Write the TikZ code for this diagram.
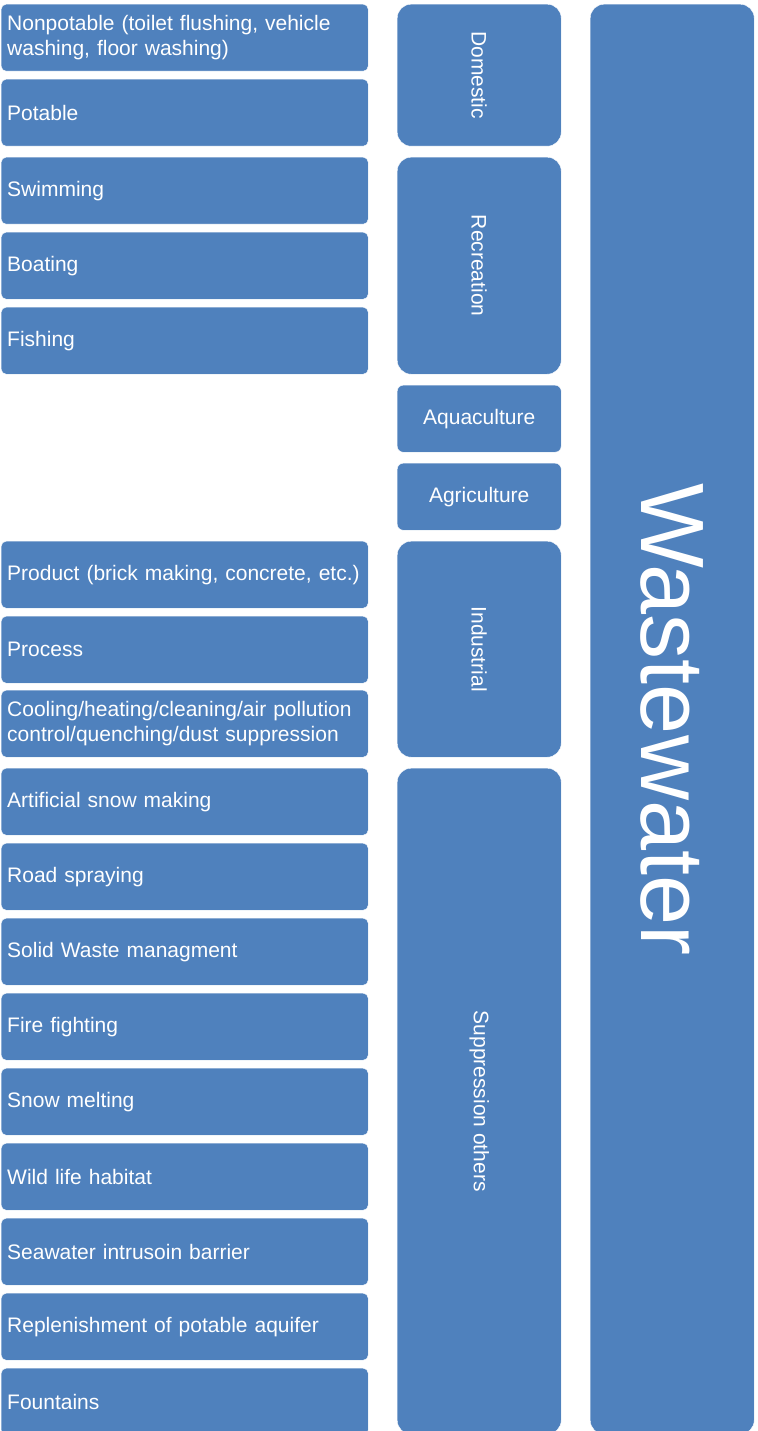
\documentclass[tikz,border=0pt]{standalone}
\usepackage{fontspec}
\setmainfont{Liberation Sans}
\usepackage{xcolor}
\usepackage{tikz}
\definecolor{wwblue}{HTML}{4F81BD}

\begin{document}
\begin{tikzpicture}[x=1pt, y=-1pt,
  usebox/.style={fill=wwblue, draw=white, line width=0.4pt, rounded corners=5pt,
    anchor=north west, minimum width=367pt, minimum height=67pt,
    text width=355pt, inner xsep=6pt, inner ysep=0pt, align=left,
    text=white, font=\fontsize{21}{25.5}\selectfont},
  groupbox/.style={fill=wwblue, draw=white, line width=0.4pt, rounded corners=14pt,
    anchor=north west, minimum width=164pt, inner sep=0pt,
    text=white, font=\fontsize{21}{25}\selectfont},
  vlabel/.style={label={[rotate=-90, text=white, inner sep=0pt,
    font=\fontsize{21}{25}\selectfont]center:#1}},
  biglabel/.style={label={[rotate=-90, text=white, inner sep=0pt,
    font=\fontsize{90}{90}\selectfont]center:#1}},
]
\useasboundingbox (0,0) rectangle (757,1431);
% uses (left column)
\foreach \i/\ytop/\txt in {%
  1/4/{Nonpotable (toilet flushing, vehicle\\washing, floor washing)},
  2/79/{Potable},
  3/157/{Swimming},
  4/232/{Boating},
  5/307/{Fishing},
  6/541/{Product (brick making, concrete, etc.)},
  7/616/{Process},
  8/690/{Cooling/heating/cleaning/air pollution\\control/quenching/dust suppression},
  9/768/{Artificial snow making},
  10/843/{Road spraying},
  11/918/{Solid Waste managment},
  12/993/{Fire fighting},
  13/1068/{Snow melting},
  14/1143/{Wild life habitat},
  15/1218/{Seawater intrusoin barrier},
  16/1293/{Replenishment of potable aquifer},
  17/1368/{Fountains}%
} {
  \node[usebox] (use\i) at (1,\ytop) {\txt};
}
% sectors (middle column)
\foreach \name/\ytop/\h/\txt in {%
  domestic/4/142/Domestic,
  recreation/157/217/Recreation,
  industrial/541/216/Industrial,
  suppression/768/666/Suppression others%
} {
  \node[groupbox, minimum height=\h pt, vlabel=\txt] (\name) at (397,\ytop) {};
}
\node[groupbox, rounded corners=6pt, minimum height=67pt] (aquaculture) at (397,385) {Aquaculture};
\node[groupbox, rounded corners=6pt, minimum height=67pt] (agriculture) at (397,463) {Agriculture};
% source
\node[groupbox, minimum height=1430pt, biglabel=Wastewater] (wastewater) at (590,4) {};
\end{tikzpicture}
\end{document}
